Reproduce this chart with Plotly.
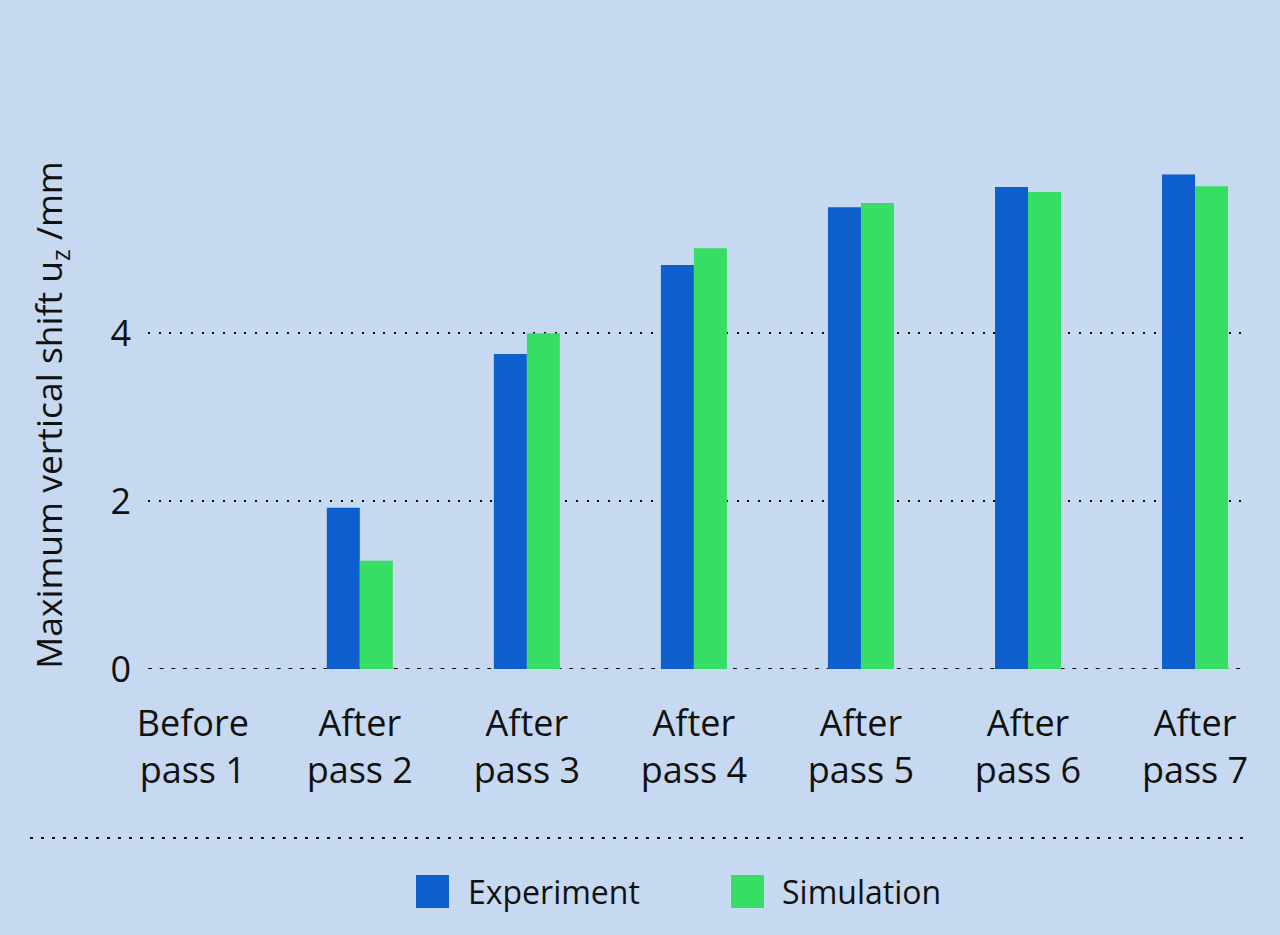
import plotly.graph_objects as go

# data
categories = ["Before<br>pass 1", "After<br>pass 2", "After<br>pass 3", "After<br>pass 4",
              "After<br>pass 5", "After<br>pass 6", "After<br>pass 7"]
experiment = [0, 1.92, 3.75, 4.81, 5.5, 5.74, 5.89]
simulation = [0, 1.29, 4.0, 5.01, 5.55, 5.68, 5.75]
y_ticks = [0, 2, 4]

BG = "#C6D9F0"
BLUE = "#0F5ECE"
GREEN = "#36DE63"
INK = "#111111"
FONT = "Open Sans"

W, H = 1280, 935
L, R, T, B = 148, 32, 161, 266  # margins in px
PW, PH = W - L - R, H - T - B


def px(x):
    return (x - L) / PW


def py(y):
    return (H - B - y) / PH


fig = go.Figure()
fig.add_trace(go.Bar(x=categories, y=experiment, name="Experiment",
                     marker=dict(color=BLUE, line=dict(width=0)), showlegend=False))
fig.add_trace(go.Bar(x=categories, y=simulation, name="Simulation",
                     marker=dict(color=GREEN, line=dict(width=0)), showlegend=False))

shapes = [
    # dashed zero line
    dict(type="line", xref="paper", yref="y", x0=0, x1=1, y0=0, y1=0, layer="below",
         line=dict(color=INK, width=2, dash="4px,7.7px")),
    # dashed separator above the legend
    dict(type="line", xref="paper", yref="paper", x0=px(30), x1=px(1250), y0=py(838), y1=py(838),
         line=dict(color=INK, width=2, dash="3px,8px")),
    # legend swatches
    dict(type="rect", xref="paper", yref="paper", x0=px(416), x1=px(449), y0=py(908), y1=py(875),
         fillcolor=BLUE, line=dict(width=0)),
    dict(type="rect", xref="paper", yref="paper", x0=px(731), x1=px(764), y0=py(908), y1=py(875),
         fillcolor=GREEN, line=dict(width=0)),
]
annotations = [
    dict(text="Experiment", xref="paper", yref="paper", x=px(466), y=py(891), xanchor="left",
         yanchor="middle", showarrow=False, font=dict(size=32, color=INK, family=FONT)),
    dict(text="Simulation", xref="paper", yref="paper", x=px(780), y=py(891), xanchor="left",
         yanchor="middle", showarrow=False, font=dict(size=32, color=INK, family=FONT)),
]

fig.update_layout(
    width=W, height=H,
    margin=dict(l=L, r=R, t=T, b=B, pad=0),
    paper_bgcolor=BG, plot_bgcolor=BG,
    barmode="group", bargap=0.605, bargroupgap=0,
    font=dict(family=FONT, color=INK),
    shapes=shapes, annotations=annotations,
    showlegend=False,
)
fig.update_xaxes(
    range=[-0.268, 6.317], showgrid=False, showline=False, ticks="",
    tickfont=dict(size=36, color=INK), ticklabelstandoff=30,
)
fig.update_yaxes(
    range=[0, 6.05], tickvals=y_ticks, ticktext=[str(v) for v in y_ticks],
    showgrid=True, gridcolor=INK, gridwidth=2, griddash="2px,8.7px",
    # invisible zeroline so the dotted grid is not drawn at 0 (dashed shape instead)
    zeroline=True, zerolinecolor="rgba(0,0,0,0)",
    showline=False, ticks="", ticklabelstandoff=16,
    tickfont=dict(size=36, color=INK),
    title=dict(text="Maximum vertical shift u<sub>z</sub> /mm", font=dict(size=35.5, color=INK),
               standoff=36),
)

fig.write_html("out.html", config={"displayModeBar": False},
               post_script="document.body.style.margin='0';")
